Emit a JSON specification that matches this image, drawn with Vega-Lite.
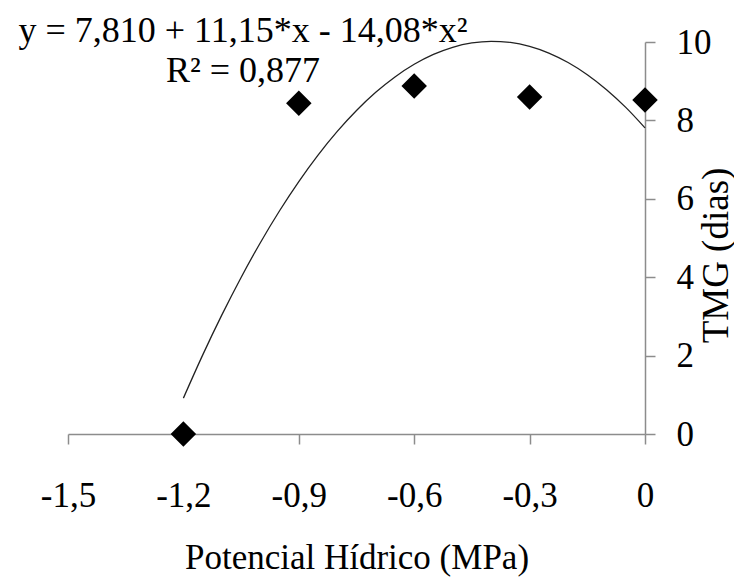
{
  "$schema": "https://vega.github.io/schema/vega-lite/v6.json",
  "autosize": "none",
  "width": 577,
  "height": 392,
  "padding": {"left": 68, "top": 42, "right": 89, "bottom": 149},
  "background": "white",
  "config": {
    "view": {"stroke": null},
    "font": "Liberation Serif",
    "axis": {"grid": false, "domainColor": "#8c8c8c", "domainWidth": 1.5, "tickColor": "#8c8c8c", "tickWidth": 1.5, "tickSize": 10, "labelColor": "black", "titleColor": "black", "labelFont": "Liberation Serif", "titleFont": "Liberation Serif", "titleFontWeight": "normal"}
  },
  "datasets": {
    "points": [
      {"x": -1.2, "y": 0},
      {"x": -0.9, "y": 8.44},
      {"x": -0.6, "y": 8.88},
      {"x": -0.3, "y": 8.6},
      {"x": 0, "y": 8.52}
    ],
    "curve": [
      {"x": -1.2, "y": 0.915},
      {"x": -1.15, "y": 2.012},
      {"x": -1.1, "y": 3.038},
      {"x": -1.05, "y": 3.994},
      {"x": -1.0, "y": 4.88},
      {"x": -0.95, "y": 5.695},
      {"x": -0.9, "y": 6.44},
      {"x": -0.85, "y": 7.115},
      {"x": -0.8, "y": 7.719},
      {"x": -0.75, "y": 8.253},
      {"x": -0.7, "y": 8.716},
      {"x": -0.65, "y": 9.109},
      {"x": -0.6, "y": 9.431},
      {"x": -0.55, "y": 9.683},
      {"x": -0.5, "y": 9.865},
      {"x": -0.45, "y": 9.976},
      {"x": -0.4, "y": 10.017},
      {"x": -0.35, "y": 9.988},
      {"x": -0.3, "y": 9.888},
      {"x": -0.25, "y": 9.718},
      {"x": -0.2, "y": 9.477},
      {"x": -0.15, "y": 9.166},
      {"x": -0.1, "y": 8.784},
      {"x": -0.05, "y": 8.332},
      {"x": 0, "y": 7.81}
    ],
    "labels": [
      {"x": -1.045, "y": 10.0, "text": "y = 7,810 + 11,15*x - 14,08*x²"},
      {"x": -1.045, "y": 8.98, "text": "R² = 0,877"}
    ]
  },
  "layer": [
    {
      "data": {"name": "curve"},
      "mark": {"type": "line", "color": "#222222", "strokeWidth": 1.3, "interpolate": "monotone", "clip": false},
      "encoding": {
        "x": {
          "field": "x", "type": "quantitative",
          "scale": {"domain": [-1.5, 0], "nice": false, "zero": false},
          "axis": {
            "values": [-1.5, -1.2, -0.9, -0.6, -0.3, 0],
            "labelExpr": "datum.value == 0 ? '0' : '-' + replace(format(-datum.value, '.1f'), '.', ',')",
            "labelFont": "Liberation Serif", "labelFontSize": 35, "labelBaseline": "alphabetic", "labelPadding": 62, "labelFlush": false,
            "title": "Potencial Hídrico (MPa)", "titleFont": "Liberation Serif", "titleFontSize": 35, "titleFontWeight": "normal", "titleBaseline": "alphabetic", "titleY": 134
          }
        },
        "y": {
          "field": "y", "type": "quantitative",
          "scale": {"domain": [0, 10], "nice": false},
          "axis": {
            "orient": "right",
            "values": [0, 2, 4, 6, 8, 10],
            "labelFont": "Liberation Serif", "labelFontSize": 35, "labelPadding": 21, "labelFlush": false, "labelBaseline": "middle",
            "title": "TMG (dias)", "titleFont": "Liberation Serif", "titleFontSize": 37, "titleFontWeight": "normal", "titleAngle": 270, "titleBaseline": "alphabetic", "titleAlign": "center", "titleX": 82, "titleY": 213
          }
        }
      }
    },
    {
      "data": {"name": "points"},
      "mark": {"type": "point", "shape": "diamond", "filled": true, "color": "black", "opacity": 1, "size": 650, "clip": false},
      "encoding": {
        "x": {"field": "x", "type": "quantitative"},
        "y": {"field": "y", "type": "quantitative"}
      }
    },
    {
      "data": {"name": "labels"},
      "mark": {"type": "text", "font": "Liberation Serif", "fontSize": 36, "align": "center", "baseline": "alphabetic", "color": "black"},
      "encoding": {
        "x": {"field": "x", "type": "quantitative"},
        "y": {"field": "y", "type": "quantitative"},
        "text": {"field": "text"}
      }
    }
  ]
}
